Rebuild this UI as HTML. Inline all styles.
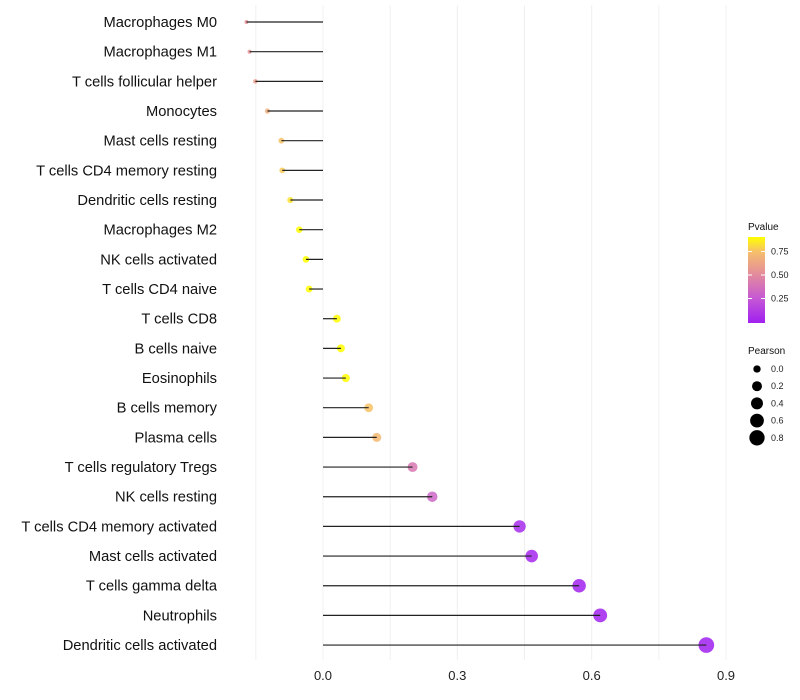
<!DOCTYPE html>
<html><head><meta charset="utf-8"><style>
body{margin:0;background:#fff;}
svg{display:block;font-family:"Liberation Sans",sans-serif;}
</style></head><body>
<svg id="chart" width="800" height="700"></svg>
<script>
const categories=["Macrophages M0","Macrophages M1","T cells follicular helper","Monocytes","Mast cells resting","T cells CD4 memory resting","Dendritic cells resting","Macrophages M2","NK cells activated","T cells CD4 naive","T cells CD8","B cells naive","Eosinophils","B cells memory","Plasma cells","T cells regulatory  Tregs","NK cells resting","T cells CD4 memory activated","Mast cells activated","T cells gamma delta","Neutrophils","Dendritic cells activated"];
const pearson=[-0.171,-0.164,-0.151,-0.124,-0.093,-0.091,-0.073,-0.053,-0.038,-0.031,0.031,0.040,0.051,0.102,0.120,0.200,0.244,0.439,0.466,0.572,0.619,0.856];
const pvalues=[0.55,0.56,0.60,0.68,0.76,0.78,0.84,0.92,0.95,0.96,0.97,0.95,0.91,0.76,0.72,0.42,0.33,0.05,0.03,0.01,0.005,0.001];
const xTicks=[0.0,0.3,0.6,0.9];
const xGrid=[-0.15,0,0.15,0.3,0.45,0.6,0.75,0.9];
const pTicks=[0.75,0.5,0.25];
const sizeTicks=[0.0,0.2,0.4,0.6,0.8];

const NS="http://www.w3.org/2000/svg";
const svg=document.getElementById('chart');
const x=v=>323+v*447.8;
const y=i=>22+i*29.67;
const r=v=>Math.sqrt(Math.max(3,4+56*(v+0.171)));
const pMax=0.91;
const cStops=[[0,[160,32,240]],[0.25,[196,86,214]],[0.5,[226,136,160]],[0.75,[246,190,108]],[0.91,[255,255,0]]];
function col(p){p=Math.min(pMax,Math.max(0,p));
 for(let k=1;k<cStops.length;k++){if(p<=cStops[k][0]){const [p0,a]=cStops[k-1],[p1,b]=cStops[k];const t=(p-p0)/(p1-p0);
  return `rgb(${a.map((c,j)=>Math.round(c+(b[j]-c)*t)).join(',')})`;}}
 return 'rgb(255,255,0)';}
function mk(tag,attrs,parent){const e=document.createElementNS(NS,tag);for(const k in attrs)e.setAttribute(k,attrs[k]);(parent||svg).appendChild(e);return e;}

xGrid.forEach(g=>{const l=mk('line',{x1:x(g),x2:x(g),y1:5,y2:660,stroke:'#f0f0f0','stroke-width':1});

});

xTicks.forEach(t=>{const e=mk('text',{x:x(t),y:680,'text-anchor':'middle','font-size':13,fill:'#222'});e.textContent=t.toFixed(1);

});

categories.forEach((c,i)=>{
 const t=mk('text',{x:217,y:y(i)+5,'text-anchor':'end','font-size':14.7,fill:'#111'});t.textContent=c;
 
 
 const pt=mk('circle',{cx:x(pearson[i]),cy:y(i),r:r(pearson[i]),fill:col(pvalues[i]),'fill-opacity':0.85});
 
 
 const ln=mk('line',{x1:x(0),x2:x(pearson[i]),y1:y(i),y2:y(i),stroke:'#222','stroke-width':1.2});
 
 
});

const lt=mk('text',{x:748,y:230,'font-size':10,fill:'#111'});lt.textContent='Pvalue';


const defs=mk('defs',{});const gr=mk('linearGradient',{id:'pg',x1:0,y1:1,x2:0,y2:0},defs);
cStops.forEach(s=>mk('stop',{offset:s[0]/pMax,'stop-color':col(s[0])},gr));
const bar=mk('rect',{x:748,y:237,width:17,height:86,fill:'url(#pg)'});


const py=p=>322-p*94;
pTicks.forEach(p=>{mk('line',{x1:748,x2:752,y1:py(p),y2:py(p),stroke:'#fff'});mk('line',{x1:761,x2:765,y1:py(p),y2:py(p),stroke:'#fff'});
 const e=mk('text',{x:771,y:py(p)+3,'font-size':9,fill:'#222'});e.textContent=p.toFixed(2);
 
 });

const st=mk('text',{x:748,y:354,'font-size':10,fill:'#111'});st.textContent='Pearson';


sizeTicks.forEach((s,k)=>{const cy=369+k*17.2;
 const c=mk('circle',{cx:757,cy:cy,r:r(s),fill:'#000'});
 
 
 const e=mk('text',{x:771,y:cy+3,'font-size':9,fill:'#222'});e.textContent=s.toFixed(1);
 
 });
</script>
</body></html>
